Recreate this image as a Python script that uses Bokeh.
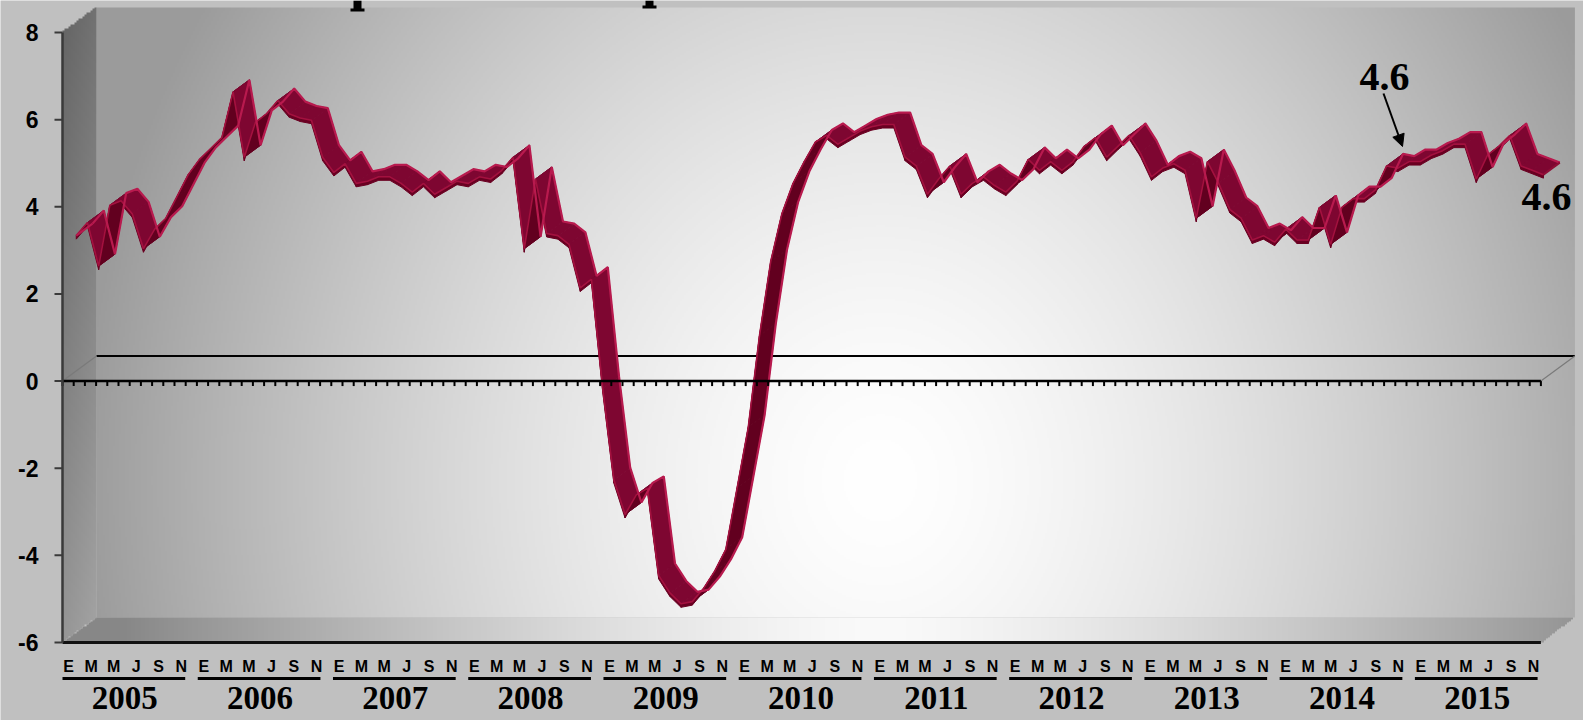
import numpy as np
from bokeh.plotting import figure
from bokeh.models import Range1d, Arrow, NormalHead
from bokeh.core.properties import value
from bokeh.embed import file_html
from bokeh.resources import INLINE

# ---------------- data ----------------
years = ["2005", "2006", "2007", "2008", "2009", "2010",
         "2011", "2012", "2013", "2014", "2015"]
month_letters = ["E", "M", "M", "J", "S", "N"]
y_ticks = [8, 6, 4, 2, 0, -2, -4, -6]

v2005 = [3.2, 3.5, 2.5, 3.9, 4.0, 3.7, 2.9, 3.35, 3.6, 4.1, 4.6, 4.95]
v2006 = [5.2, 5.45, 6.5, 5.0, 5.8, 6.0, 6.3, 6.0, 5.9, 5.85, 5.0, 4.65]
v2007 = [4.85, 4.4, 4.45, 4.55, 4.55, 4.4, 4.2, 4.4, 4.15, 4.3, 4.45, 4.4]
v2008 = [4.55, 4.5, 4.7, 5.0, 2.9, 4.5, 3.25, 3.2, 3.0, 2.0, 2.2, -0.3]
v2009 = [-2.4, -3.2, -2.75, -2.6, -4.6, -5.0, -5.25, -5.2, -4.9, -4.5, -4.0, -2.6]
v2010 = [-1.2, 0.9, 2.6, 3.7, 4.4, 4.9, 5.35, 5.5, 5.3, 5.45, 5.6, 5.7]
v2011 = [5.75, 5.75, 5.0, 4.8, 4.15, 4.5, 4.8, 4.15, 4.4, 4.55, 4.35, 4.2]
v2012 = [4.45, 4.95, 4.7, 4.9, 4.7, 4.9, 5.25, 5.45, 5.0, 5.25, 5.5, 5.1]
v2013 = [4.55, 4.75, 4.85, 4.7, 3.6, 4.9, 4.4, 3.8, 3.6, 3.1, 3.2, 3.05]
v2014 = [3.35, 3.1, 3.1, 3.85, 3.0, 3.85, 4.05, 4.05, 4.25, 4.8, 4.75, 4.9]
v2015 = [4.9, 5.05, 5.15, 5.3, 5.3, 4.5, 5.05, 5.25, 5.5, 4.8, 4.7, 4.6]

annot_text = "4.6"

series = (v2005 + v2006 + v2007 + v2008 + v2009 + v2010 +
          v2011 + v2012 + v2013 + v2014 + v2015)

# ---------------- geometry (window pixels -> data) ----------------
W, H = 1583, 720
PX_MONTH = 11.2      # px per month on the front plane
PX_UNIT = 43.571     # px per unit on the value axis
X0 = 62.0            # window x of the front plane's left edge
Y0 = 380.57          # window y of value 0 on the front plane
DXm = 34 / PX_MONTH  # depth offset (months)
DYv = 25 / PX_UNIT   # depth offset (value units)
N = len(series)
YMIN, YMAX = -6, 8


def wx(x):
    return X0 + (np.asarray(x) + 0.5) * PX_MONTH


def wy(v):
    return Y0 - np.asarray(v) * PX_UNIT


def dx_of(px):
    return (px - X0) / PX_MONTH - 0.5


def dy_of(py):
    return (Y0 - py) / PX_UNIT


p = figure(width=W, height=H, output_backend="svg", toolbar_location=None,
           x_axis_type=None, y_axis_type=None,
           x_range=Range1d(dx_of(0), dx_of(W)), y_range=Range1d(dy_of(H), dy_of(0)),
           min_border=0)
p.outline_line_color = None
p.background_fill_color = "#c0c0c0"
p.border_fill_color = "#c0c0c0"


def gray_image(x0, y0, dw, dh, nx, ny, shade, mask=None):
    cx = x0 + (np.arange(nx) + 0.5) * dw / nx
    cy = y0 + (np.arange(ny) + 0.5) * dh / ny
    XX, YY = np.meshgrid(wx(cx), wy(cy))
    g = np.clip(shade(XX, YY), 0, 255).astype(np.uint8)
    img = np.empty((ny, nx), dtype=np.uint32)
    view = img.view(dtype=np.uint8).reshape((ny, nx, 4))
    view[:, :, 0] = g
    view[:, :, 1] = g
    view[:, :, 2] = g
    if mask is None:
        view[:, :, 3] = 255
    else:
        view[:, :, 3] = np.where(mask(XX, YY), 255, 0).astype(np.uint8)
    p.image_rgba(image=[img], x=x0, y=y0, dw=dw, dh=dh)


def wall_shade(X, Y):
    r = np.sqrt(((X - 880) / 800.0) ** 2 + ((Y - 480) / 900.0) ** 2)
    return 255 - 100 * np.clip(r, 0, 1) ** 1.5


def floor_shade(X, Y):
    r = np.abs(X - 880) / 760.0
    return 250 - 115 * np.clip(r, 0, 1) ** 1.4


front_left, front_right = -0.5, N - 0.5
bx0, bx1 = front_left + DXm, front_right + DXm
by0, by1 = YMIN + DYv, YMAX + DYv

# back wall
gray_image(bx0, by0, bx1 - bx0, by1 - by0, 740, 305, wall_shade)

# floor
fl_front = float(wy(YMIN))
wl = float(wx(front_left))
wr = float(wx(front_right))
dxp = DXm * PX_MONTH
dyp = DYv * PX_UNIT


def floor_mask(X, Y):
    t = (fl_front - Y) / dyp
    return (t >= 0) & (t <= 1) & (X >= wl + dxp * t) & (X <= wr + dxp * t)


gray_image(front_left, YMIN, bx1 - front_left, DYv, 760, 14, floor_shade, floor_mask)


# left wall
def lw_shade(X, Y):
    return 100 + 50 * (Y - 7) / 635.0 + 14 * (X - wl) / dxp


top_front = float(wy(YMAX))


def lw_mask(X, Y):
    t = (X - wl) / dxp
    return (t >= 0) & (t <= 1) & (Y <= fl_front - dyp * t) & (Y >= top_front - dyp * t)


gray_image(front_left, YMIN, DXm, (YMAX - YMIN) + DYv, 17, 320, lw_shade, lw_mask)

# fragments of the cut-off title at the top edge
frag_left = [353, 645]
p.quad(left=[dx_of(a) for a in frag_left], right=[dx_of(a + 8) for a in frag_left],
       top=[dy_of(0)] * 2, bottom=[dy_of(10), dy_of(7)], fill_color="black", line_color=None)
p.quad(left=[dx_of(a - 3) for a in frag_left], right=[dx_of(a + 11) for a in frag_left],
       top=[dy_of(8), dy_of(5)], bottom=[dy_of(11), dy_of(8)], fill_color="black", line_color=None)

# back zero line and side connectors
p.line([bx0, bx1], [DYv, DYv], line_color="black", line_width=2)
p.line([front_left, bx0], [0, DYv], line_color="#7a7a7a", line_width=1.2)
p.line([front_right, bx1], [0, DYv], line_color="#7a7a7a", line_width=1.2)

# ---------------- 3D ribbon ----------------
vals = np.array(series, dtype=float)
idx = np.arange(N, dtype=float)
D1, D2 = 0.24, 0.72
THICK = 3.5 / PX_UNIT
fx, fy = idx + D1 * DXm, vals + D1 * DYv
kx, ky = idx + D2 * DXm, vals + D2 * DYv
crit = DYv / DXm
side_x = [[fx[k], fx[k + 1], fx[k + 1], fx[k]] for k in range(N - 1)]
side_y = [[fy[k], fy[k + 1], fy[k + 1] - THICK, fy[k] - THICK] for k in range(N - 1)]
p.patches(side_x, side_y, fill_color="#6a0022", line_color="#6a0022", line_width=1)
poly_x = [[fx[k], fx[k + 1], kx[k + 1], kx[k]] for k in range(N - 1)]
poly_y = [[fy[k], fy[k + 1], ky[k + 1], ky[k]] for k in range(N - 1)]
face = ["#62001f" if vals[k + 1] - vals[k] > crit else "#7e0631" for k in range(N - 1)]
p.patches(poly_x, poly_y, fill_color=face, line_color=face, line_width=1)
p.line(fx, fy, line_color="#a3113f", line_width=1.6)
p.line(kx, ky, line_color="#b81a4e", line_width=2.2)
p.line([fx[0], kx[0]], [fy[0], ky[0]], line_color="#b81a4e", line_width=2)
p.line([fx[-1], kx[-1]], [fy[-1], ky[-1]], line_color="#8e0d36", line_width=2)

# front zero (category) axis with ticks
p.line([front_left, front_right], [0, 0], line_color="black", line_width=2.5)
tick_x = np.arange(N + 1) - 0.5
p.segment(x0=tick_x, y0=np.zeros(N + 1), x1=tick_x, y1=np.full(N + 1, -5 / PX_UNIT),
          line_color="black", line_width=2)

# floor front edge
p.line([front_left, front_right], [YMIN, YMIN], line_color="#111111", line_width=3)

# value axis
p.line([front_left, front_left], [YMIN, YMAX], line_color="#3a3a3a", line_width=2.5)
p.segment(x0=[front_left - 8 / PX_MONTH] * len(y_ticks), y0=y_ticks,
          x1=[front_left] * len(y_ticks), y1=y_ticks, line_color="#3a3a3a", line_width=2)
p.text(x=[front_left - 24 / PX_MONTH] * len(y_ticks), y=y_ticks,
       text=[str(t) for t in y_ticks], text_font=value("Liberation Sans"),
       text_font_style="bold", text_font_size="23px", text_align="right",
       text_baseline="middle", text_color="black")

# ---------------- month & year labels ----------------
LBL_SCALE = 1.00625
LBL_OFF = 0.036
lx, ly, lt = [], [], []
ux0, ux1, yrx = [], [], []
for yi, yr in enumerate(years):
    first = None
    last = None
    for mi, m in enumerate(month_letters):
        i = yi * 12 + mi * 2
        pos = LBL_OFF + LBL_SCALE * i
        lx.append(pos)
        ly.append(dy_of(666))
        lt.append(m)
        if first is None:
            first = pos
        last = pos
    ux0.append(first - 6 / PX_MONTH)
    ux1.append(last + 4 / PX_MONTH)
    yrx.append((first + last) / 2)

p.text(x=lx, y=ly, text=lt, text_font=value("Liberation Sans"), text_font_style="bold",
       text_font_size="16px", text_align="center", text_baseline="middle",
       text_color="black")
uy = dy_of(678)
p.segment(x0=ux0, y0=[uy] * len(years), x1=ux1, y1=[uy] * len(years),
          line_color="black", line_width=3)
p.text(x=yrx, y=[dy_of(686)] * len(years), text=years,
       text_font=value("Liberation Serif"), text_font_style="bold",
       text_font_size="33px", text_align="center", text_baseline="top",
       text_color="black")

# ---------------- annotations ----------------
p.text(x=[dx_of(1384)], y=[dy_of(76)], text=[annot_text],
       text_font=value("Liberation Serif"), text_font_style="bold",
       text_font_size="40px", text_align="center", text_baseline="middle",
       text_color="black")
p.add_layout(Arrow(end=NormalHead(size=12, fill_color="black", line_color="black"),
                   x_start=dx_of(1383), y_start=dy_of(93),
                   x_end=dx_of(1402), y_end=dy_of(146),
                   line_color="black", line_width=2))
p.text(x=[dx_of(1546)], y=[dy_of(196)], text=[annot_text],
       text_font=value("Liberation Serif"), text_font_style="bold",
       text_font_size="40px", text_align="center", text_baseline="middle",
       text_color="black")

open("out.html", "w").write(file_html(p, INLINE))
